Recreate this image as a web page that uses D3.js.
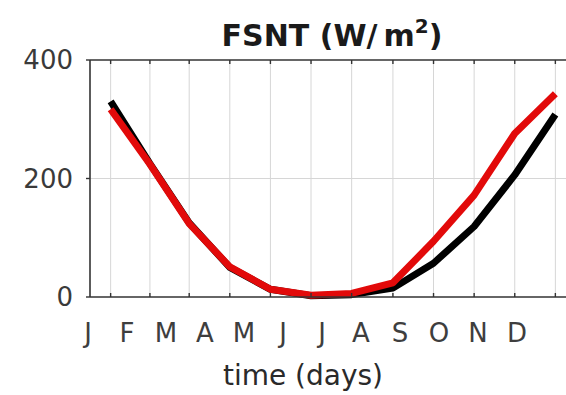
<!DOCTYPE html>
<html>
<head>
<meta charset="utf-8">
<script src="https://cdn.jsdelivr.net/npm/d3@7"></script>
<style>
  html, body { margin: 0; padding: 0; background: #fff; }
  svg { display: block; }
</style>
</head>
<body>
<svg id="chart" width="566" height="395"></svg>
<script>
// Monthly-mean net shortwave flux at top of model (W/m^2), sampled mid-month
const monthDays = [15.5, 45, 74.5, 105, 135.5, 166, 196.5, 227.5, 258, 288.5, 319, 349.5];
const fsntBlack = [330, 225, 125, 50, 13, 2, 4, 15, 57, 119, 206, 308];
const fsntRed   = [317, 224, 124, 51, 13, 3, 6, 24, 94, 172, 276, 343];
const monthLabels = ["J", "F", "M", "A", "M", "J", "J", "A", "S", "O", "N", "D"];
const yTicks = [0, 200, 400];

const svg = d3.select("#chart");
const font = "'DejaVu Sans', Verdana, sans-serif";

const x = d3.scaleLinear().domain([0, 365]).range([90, 576]);
const y = d3.scaleLinear().domain([0, 400]).range([297, 60]);
const xLab = d3.scalePoint().domain(d3.range(monthLabels.length)).range([88, 517]);

// grid
svg.append("g").selectAll("line").data(monthDays).join("line")
  .attr("x1", d => x(d)).attr("x2", d => x(d))
  .attr("y1", y(0)).attr("y2", y(400))
  .attr("stroke", "#d6d6d6").attr("stroke-width", 1);
svg.append("line")
  .attr("x1", x(0)).attr("x2", x(365))
  .attr("y1", y(200)).attr("y2", y(200))
  .attr("stroke", "#d6d6d6").attr("stroke-width", 1);

// series (black first, red drawn over it)
const line = d3.line()
  .x((d, i) => x(monthDays[i]))
  .y(d => y(d));
[[fsntBlack, "#000000"], [fsntRed, "#e20a0a"]].forEach(([vals, col]) => {
  svg.append("path").datum(vals)
    .attr("d", line)
    .attr("fill", "none")
    .attr("stroke", col)
    .attr("stroke-width", 7)
    .attr("stroke-linejoin", "round");
});

// axes box
const axisCol = "#333";
svg.append("line").attr("x1", x(0)).attr("x2", x(365)).attr("y1", y(0)).attr("y2", y(0))
  .attr("stroke", axisCol).attr("stroke-width", 1.6);
svg.append("line").attr("x1", x(0)).attr("x2", x(365)).attr("y1", y(400)).attr("y2", y(400))
  .attr("stroke", axisCol).attr("stroke-width", 1.6);
svg.append("line").attr("x1", x(0)).attr("x2", x(0)).attr("y1", y(0)).attr("y2", y(400))
  .attr("stroke", axisCol).attr("stroke-width", 1.6);

// inward ticks on top and bottom
const tk = svg.append("g").attr("stroke", axisCol).attr("stroke-width", 1.4);
tk.selectAll(".tb").data(monthDays).join("line")
  .attr("x1", d => x(d)).attr("x2", d => x(d))
  .attr("y1", y(0)).attr("y2", y(0) - 4);
tk.selectAll(".tt").data(monthDays).join("line")
  .attr("x1", d => x(d)).attr("x2", d => x(d))
  .attr("y1", y(400)).attr("y2", y(400) + 4);
tk.selectAll(".ty").data(yTicks).join("line")
  .attr("x1", x(0) - 4).attr("x2", x(0))
  .attr("y1", d => y(d)).attr("y2", d => y(d));

// y tick labels
svg.append("g").selectAll("text").data(yTicks).join("text")
  .attr("x", 73).attr("y", d => y(d))
  .attr("dy", "0.36em")
  .attr("text-anchor", "end")
  .attr("font-family", font).attr("font-size", 26)
  .attr("fill", "#3a3a3a")
  .text(d => d);

// month labels
svg.append("g").selectAll("text").data(monthLabels).join("text")
  .attr("x", (d, i) => xLab(i)).attr("y", 342)
  .attr("text-anchor", "middle")
  .attr("font-family", font).attr("font-size", 26)
  .attr("fill", "#3e3e3e")
  .text(d => d);

// x label
svg.append("text")
  .attr("x", 303).attr("y", 385)
  .attr("text-anchor", "middle")
  .attr("font-family", font).attr("font-size", 28)
  .attr("fill", "#2a2a2a")
  .text("time (days)");

// title
const title = svg.append("text")
  .attr("x", 332).attr("y", 46)
  .attr("text-anchor", "middle")
  .attr("font-family", font).attr("font-size", 30)
  .attr("font-weight", "bold")
  .attr("fill", "#1a1a1a");
title.append("tspan").text("FSNT (W/\u2009m");
title.append("tspan").attr("font-size", 20).attr("dy", -13).text("2");
title.append("tspan").attr("dy", 13).text(")");
</script>
</body>
</html>
